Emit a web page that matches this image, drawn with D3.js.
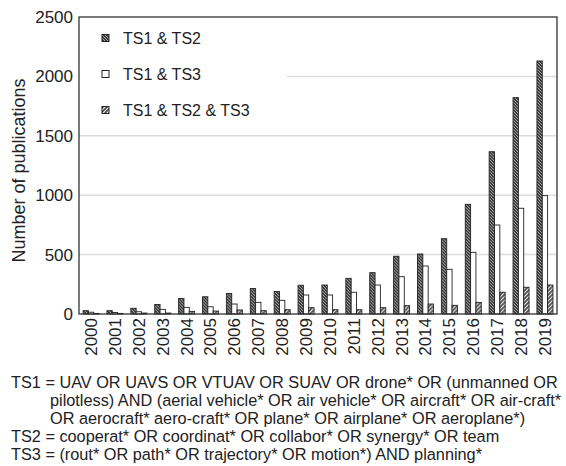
<!DOCTYPE html>
<html>
<head>
<meta charset="utf-8">
<script src="https://cdn.jsdelivr.net/npm/d3@7"></script>
<style>
  body { margin: 0; background: #fff; }
  svg { display: block; font-family: "Liberation Sans", Arial, sans-serif; }
</style>
</head>
<body>
<div id="chart"></div>
<script>
var years = ['2000','2001','2002','2003','2004','2005','2006','2007','2008','2009',
             '2010','2011','2012','2013','2014','2015','2016','2017','2018','2019'];
var ts12  = [28, 28, 48, 80, 130, 145, 173, 214, 190, 242, 244, 300, 348, 486, 505, 634, 923, 1366, 1821, 2130];
var ts13  = [15, 13, 19, 39, 56, 61, 84, 98, 115, 160, 160, 183, 244, 314, 404, 376, 519, 749, 890, 996];
var ts123 = [5, 5, 8, 8, 22, 25, 34, 28, 36, 53, 36, 36, 53, 70, 84, 73, 98, 183, 225, 244];
var seriesNames = ['TS1 & TS2', 'TS1 & TS3', 'TS1 & TS2 & TS3'];
var yTicks = [0, 500, 1000, 1500, 2000, 2500];
var notes = [
  'TS1 = UAV OR UAVS OR VTUAV OR SUAV OR drone* OR (unmanned OR',
  'pilotless) AND (aerial vehicle* OR air vehicle* OR aircraft* OR air-craft*',
  'OR aerocraft* aero-craft* OR plane* OR airplane* OR aeroplane*)',
  'TS2 = cooperat* OR coordinat* OR collabor* OR synergy* OR team',
  'TS3 = (rout* OR path* OR trajectory* OR motion*) AND planning*'
];

var W = 566, H = 466;
var pLeft = 79, pRight = 557, pTop = 17, pBottom = 314;

var svg = d3.select('#chart').append('svg')
  .attr('width', W).attr('height', H);

// fill patterns
var defs = svg.append('defs');
var p1 = defs.append('pattern').attr('id', 'pat1')
  .attr('patternUnits', 'userSpaceOnUse').attr('width', 3).attr('height', 3);
p1.append('rect').attr('width', 3).attr('height', 3).attr('fill', '#3c3c3c');
p1.append('path').attr('d', 'M0,0 L3,3 M-1,2 L1,4 M2,-1 L4,1')
  .attr('stroke', '#c8c8c8').attr('stroke-width', 0.8);
var p3 = defs.append('pattern').attr('id', 'pat3')
  .attr('patternUnits', 'userSpaceOnUse').attr('width', 4).attr('height', 4);
p3.append('rect').attr('width', 4).attr('height', 4).attr('fill', '#505050');
p3.append('path').attr('d', 'M0,4 L4,0 M-1,1 L1,-1 M3,5 L5,3')
  .attr('stroke', '#f0f0f0').attr('stroke-width', 1.1);
var fills = ['url(#pat1)', '#ffffff', 'url(#pat3)'];

var x = d3.scaleBand().domain(years).range([pLeft, pRight])
  .paddingInner(0.33).paddingOuter(0.17);
var xs = d3.scaleBand().domain([0, 1, 2]).range([0, x.bandwidth()]);
var y = d3.scaleLinear().domain([0, 2500]).range([pBottom, pTop]);

// gridlines
svg.append('g').selectAll('line')
  .data(yTicks.filter(function(d) { return d > 0 && d < 2500; }))
  .enter().append('line')
  .attr('x1', pLeft).attr('x2', pRight)
  .attr('y1', function(d) { return y(d); })
  .attr('y2', function(d) { return y(d); })
  .attr('stroke', '#dcdcdc').attr('stroke-width', 1.5);

// legend box covers the grid behind it
svg.append('rect').attr('x', pLeft + 1).attr('y', pTop + 1)
  .attr('width', 207).attr('height', 108).attr('fill', '#fff');

var rows = years.map(function(yr, i) { return [ts12[i], ts13[i], ts123[i]]; });

var groups = svg.append('g').selectAll('g')
  .data(rows).enter().append('g')
  .attr('transform', function(d, i) { return 'translate(' + x(years[i]) + ',0)'; });

groups.selectAll('rect')
  .data(function(d) { return d; })
  .enter().append('rect')
  .attr('x', function(d, j) { return xs(j); })
  .attr('y', function(d) { return y(d); })
  .attr('width', xs.bandwidth())
  .attr('height', function(d) { return pBottom - y(d); })
  .attr('fill', function(d, j) { return fills[j]; })
  .attr('stroke', '#222').attr('stroke-width', 0.9);

// frame
svg.append('rect').attr('x', pLeft).attr('y', pTop)
  .attr('width', pRight - pLeft).attr('height', pBottom - pTop)
  .attr('fill', 'none').attr('stroke', '#333').attr('stroke-width', 1.3);

// y axis labels
var yAxis = d3.axisLeft(y).tickValues(yTicks).tickFormat(d3.format('d'))
  .tickSize(0).tickPadding(6);
var gy = svg.append('g').attr('transform', 'translate(' + pLeft + ',0)').call(yAxis);
gy.select('.domain').remove();
gy.selectAll('text').attr('font-size', 17).attr('fill', '#222')
  .attr('font-family', '"Liberation Sans", Arial, sans-serif');

// x axis labels, rotated
var xAxis = d3.axisBottom(x).tickSize(0).tickPadding(0);
var gx = svg.append('g').attr('transform', 'translate(0,' + pBottom + ')').call(xAxis);
gx.select('.domain').remove();
gx.selectAll('text')
  .attr('font-size', 17).attr('fill', '#222')
  .attr('font-family', '"Liberation Sans", Arial, sans-serif')
  .attr('transform', 'rotate(-90)')
  .attr('text-anchor', 'end')
  .attr('x', -4).attr('y', 0).attr('dy', '0.35em');

// y title
svg.append('text')
  .attr('transform', 'translate(25,' + ((pTop + pBottom) / 2 + 5) + ') rotate(-90)')
  .attr('text-anchor', 'middle')
  .attr('font-size', 18).attr('fill', '#222')
  .text('Number of publications');

// legend
var legend = svg.append('g').selectAll('g')
  .data(seriesNames).enter().append('g')
  .attr('transform', function(d, i) { return 'translate(102,' + (38 + i * 36) + ')'; });
legend.append('rect')
  .attr('x', 0).attr('y', -3.5).attr('width', 7).attr('height', 7)
  .attr('fill', function(d, i) { return fills[i]; })
  .attr('stroke', '#222').attr('stroke-width', 1);
legend.append('text')
  .attr('x', 21).attr('dy', '0.35em')
  .attr('font-size', 16).attr('fill', '#222')
  .text(function(d) { return d; });

// query notes under the chart
svg.append('g').selectAll('text')
  .data(notes).enter().append('text')
  .attr('x', function(d, i) { return (i === 1 || i === 2) ? 50 : 11; })
  .attr('y', function(d, i) { return 388 + i * 18; })
  .attr('font-size', 16.3).attr('fill', '#222')
  .text(function(d) { return d; });
</script>
</body>
</html>
